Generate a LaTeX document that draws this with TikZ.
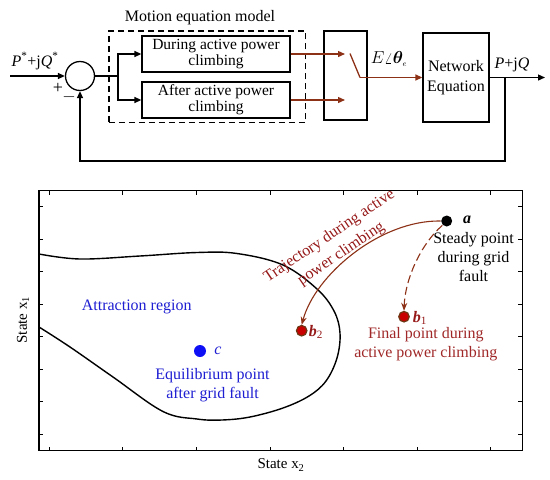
\documentclass[tikz,border=0pt]{standalone}
\usepackage{amsmath,bm}
\usepackage{fontspec}
\setmainfont{Liberation Serif}
\usetikzlibrary{arrows.meta}
\definecolor{arrred}{RGB}{140,48,22}
\definecolor{dotred}{RGB}{200,0,0}
\definecolor{dotrim}{RGB}{110,55,20}
\definecolor{finred}{RGB}{160,40,40}
\definecolor{trred}{RGB}{150,25,25}
\definecolor{txtblue}{RGB}{30,30,210}
\definecolor{dotblue}{RGB}{15,15,245}
\begin{document}
\begin{tikzpicture}[x=1pt,y=-1pt,
  font=\fontsize{16}{19}\selectfont,
  line width=1.3pt,
  blockbox/.style={draw, inner sep=0pt, align=center, font=\fontsize{15.5}{15.6}\selectfont},
  arr/.style={-{Triangle[length=7pt,width=6pt]}},
  rarr/.style={draw=arrred, -{Triangle[length=7pt,width=6pt]}, arrred},
  plarr/.style={draw=arrred, line width=1.1pt, -{Stealth[length=8pt,width=6pt]}},
  reddot/.style={circle, fill=dotred, draw=dotrim, line width=1.2pt, minimum size=10.5pt, inner sep=0pt},
  lbl/.style={inner sep=0pt, align=center}
]
\useasboundingbox (0,0) rectangle (550,480);

% ---------- block diagram ----------
\node[draw, dashed, dash pattern=on 6pt off 4pt, line width=1.1pt, minimum width=196.7pt, minimum height=91.7pt, inner sep=0pt] (model) at (207.3,76.8) {};
\node[lbl] (modeltitle) at (200,18) {Motion equation model};
\node[blockbox, minimum width=148pt, minimum height=36pt] (during) at (216,54) {During active power\\climbing};
\node[blockbox, minimum width=148pt, minimum height=36pt] (after) at (216,100) {After active power\\climbing};
\node[draw, circle, minimum size=29pt, inner sep=0pt] (sum) at (80,76) {};
\node[draw, minimum width=43pt, minimum height=89pt, inner sep=0pt] (switch) at (345.5,75.5) {};
\node[blockbox, minimum width=66pt, minimum height=89pt, font=\fontsize{16}{20}\selectfont] (net) at (456,77.5) {Network\\Equation};

\coordinate (in) at (10,76);
\coordinate (split) at (118,76);
\coordinate (sw1) at (350,53.5);
\coordinate (sw2) at (360,77.5);
\coordinate (out) at (545,77.5);
\coordinate (fb) at (505,77.5);

\node[lbl] (pref) at (35,61) {\textit{P}\textsuperscript{*}+j\textit{Q}\textsuperscript{*}};
\node[lbl, font=\fontsize{18}{19}\selectfont] (plus) at (58,88) {+};
\node[lbl] (minus) at (69,97) {$-$};
\node[lbl] (eang) at (389,59) {$E\angle\bm{\theta}_{\scriptscriptstyle e}$};
\node[lbl] (pq) at (512,65) {\textit{P}+j\textit{Q}};

\draw[arr] (in) -- (sum.west);
\draw (sum.east) -- (split);
\draw[arr] (split) |- (during.west);
\draw[arr] (split) |- (after.west);
\draw[rarr] (during.east) -- (345,54);
\draw[rarr] (after.east) -- (345,100);
\draw[draw=arrred] (sw1) -- (sw2);
\draw[rarr] (sw2) -- (net.west |- sw2);
\draw[arr] (net.east) -- (out);
\draw[arr] (fb) -- ++(0,83.5) -| (sum.south);

% ---------- phase plane ----------
\draw[line width=1.2pt] (39,190.7) rectangle (522.3,450.7);
\foreach \xx in {49.3,122.9,196.5,270.1,343.7,417.3,490.9}{
  \draw[line width=0.9pt] (\xx,450.7) -- ++(0,-4);
  \draw[line width=0.9pt] (\xx,190.7) -- ++(0,4);
}
\foreach \yy in {206.7,239.2,271.7,304.2,336.7,369.2,401.7,434.2}{
  \draw[line width=0.9pt] (39,\yy) -- ++(4,0);
  \draw[line width=0.9pt] (522.3,\yy) -- ++(-4,0);
}
\node[lbl, rotate=90, font=\fontsize{15}{18}\selectfont] (xone) at (23,320) {State x\textsubscript{1}};
\node[lbl, font=\fontsize{15}{18}\selectfont] (xtwo) at (281,465) {State x\textsubscript{2}};

\draw[line width=1.4pt] plot[smooth, tension=0.6] coordinates {
 (39,254) (80,259) (140,256) (197,252.5) (237,253.5) (283,265) (317,289)
 (334,311) (340,333) (337,358) (326,381) (309,396) (283,408) (250,417)
 (222,420) (197,419) (163,411.5) (113,377) (70,347) (39,327)};

\node[circle, fill=black, minimum size=11pt, inner sep=0pt] (a) at (446.7,221) {};
\node[reddot] (bone) at (404,316.7) {};
\node[reddot] (btwo) at (301.7,330.7) {};
\node[circle, fill=dotblue, minimum size=12pt, inner sep=0pt] (c) at (200,351) {};

\node[lbl] (alab) at (467,220) {\textbf{\textit{a}}};
\node[lbl, color=trred] (b1lab) at (420,318) {\textbf{\textit{b}}\textsubscript{1}};
\node[lbl, color=trred] (b2lab) at (316,332) {\textbf{\textit{b}}\textsubscript{2}};
\node[lbl, color=txtblue] (clab) at (218,351) {\textit{c}};

\node[lbl] (steady) at (473.5,257.5) {Steady point\\during grid\\fault};
\node[lbl, color=finred] (final) at (425.8,344.5) {Final point during\\active power climbing};
\node[lbl, color=txtblue] (equil) at (212.5,385.5) {Equilibrium point\\after grid fault};
\node[lbl, color=txtblue] (attr) at (136.7,306.7) {Attraction region};
\node[lbl, color=trred, rotate=34, font=\fontsize{16}{21}\selectfont] (traj) at (335.5,245) {Trajectory during active\\power climbing};

\draw[plarr] (a.west) .. controls (380,220) and (315,275) .. (btwo.north);
\draw[plarr, dashed, dash pattern=on 8pt off 4pt] (a.south west) .. controls (420,245) and (405,280) .. (bone.north);
\end{tikzpicture}
\end{document}
